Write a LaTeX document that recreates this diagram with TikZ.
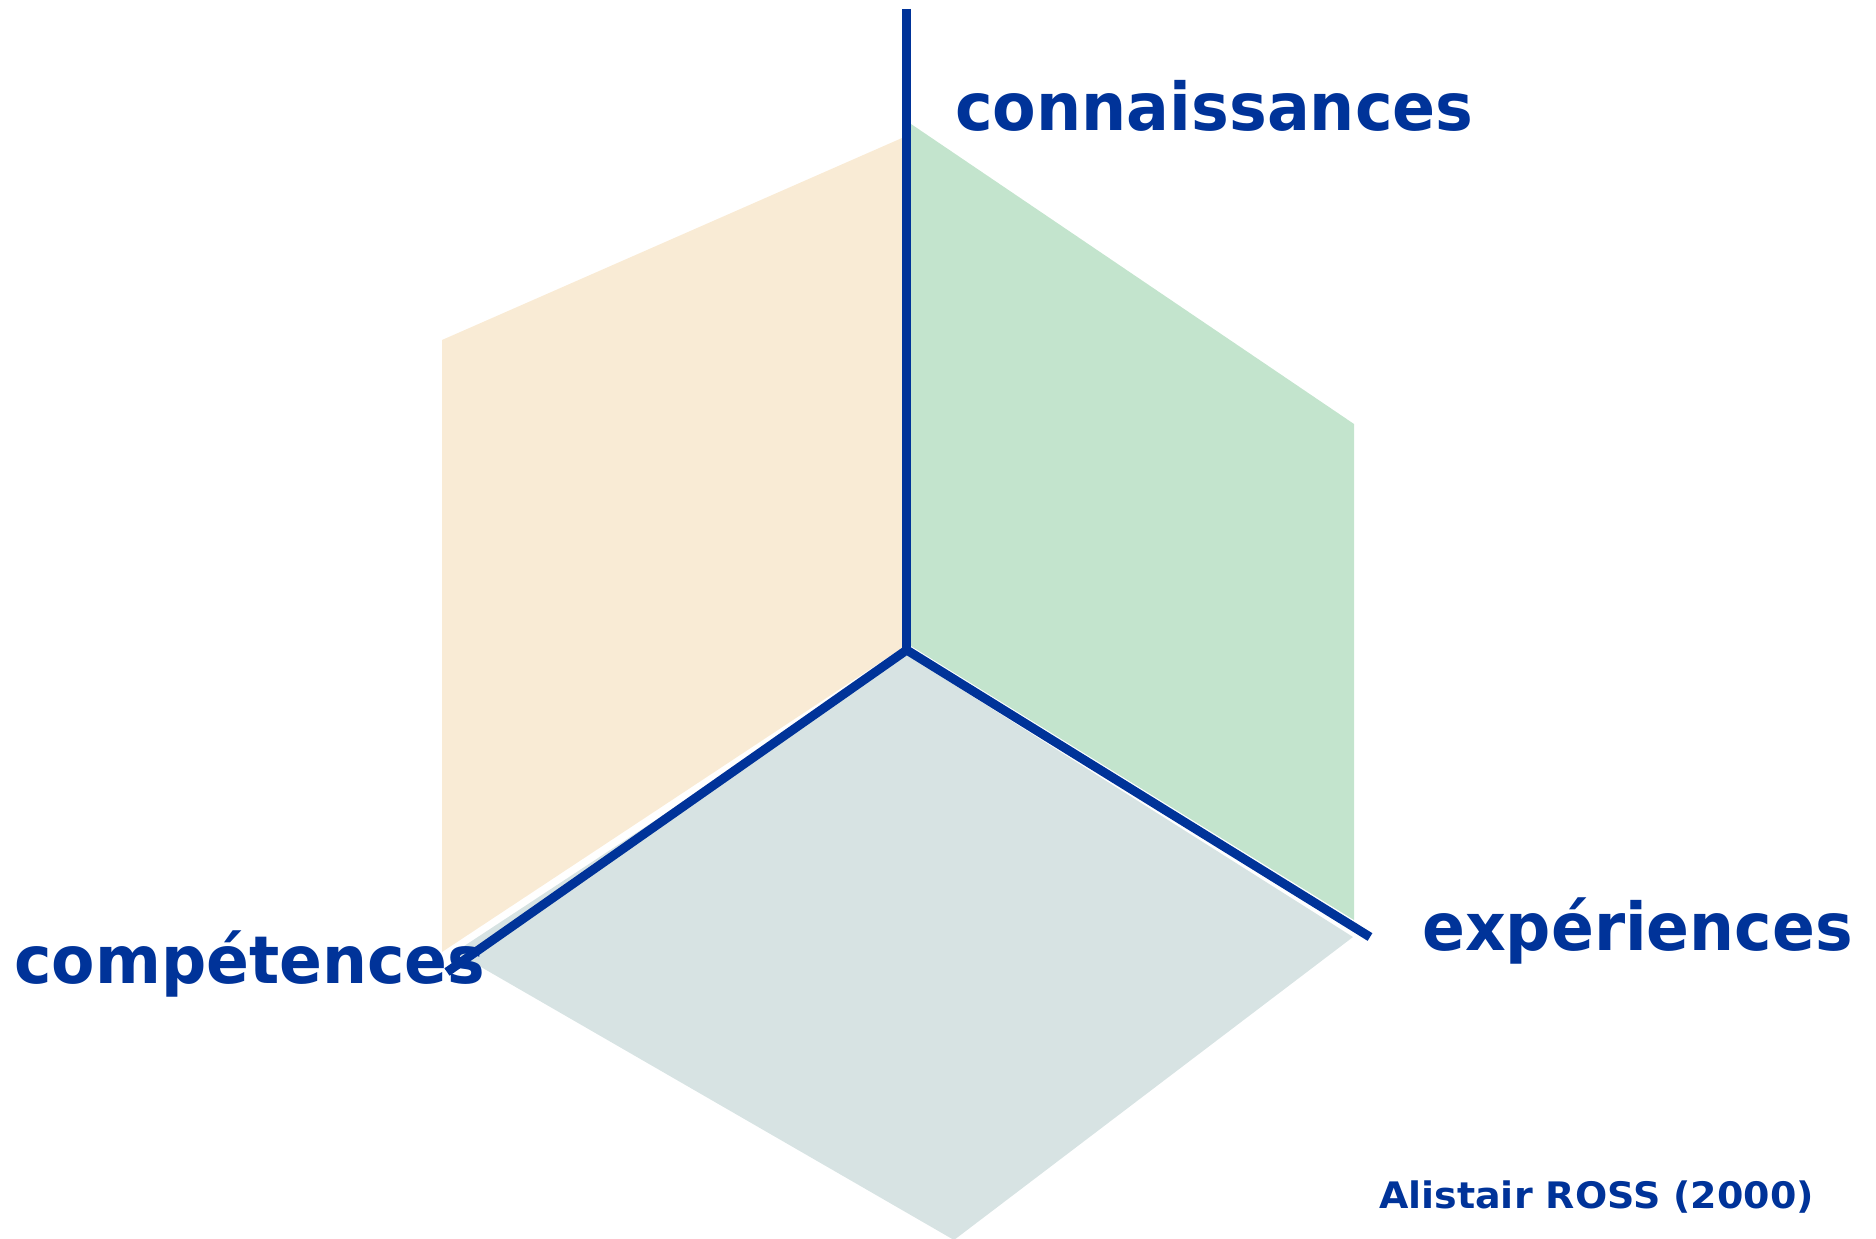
\documentclass[tikz,border=0pt]{standalone}
\usepackage{fontspec}
\setmainfont{DejaVu Sans}
\definecolor{axisblue}{RGB}{0,51,153}
\definecolor{facetorange}{RGB}{249,235,213}
\definecolor{facetgreen}{RGB}{195,228,205}
\definecolor{facetgray}{RGB}{215,227,227}
\tikzset{
  axisline/.style={draw=axisblue, line width=9pt, line join=miter},
  biglabel/.style={text=axisblue, anchor=base west, inner sep=0pt, font=\bfseries\fontsize{66}{70}\selectfont},
  smalllabel/.style={text=axisblue, anchor=base west, inner sep=0pt, font=\bfseries\fontsize{36.5}{40}\selectfont},
  facet/.style={draw=none}
}
\begin{document}
\begin{tikzpicture}[x=1pt, y=-1pt]
\useasboundingbox (0,0) rectangle (1876,1239);
% facets
\fill[facetorange] (902,138) -- (442,340) -- (442,952) -- (902,648) -- cycle;
\fill[facetgreen] (911,124) -- (1354,424) -- (1354,920) -- (911,646) -- cycle;
\fill[facetgray] (907,655) -- (1353,937) -- (954,1240) -- (455,952) -- cycle;
% axes
\coordinate (centre) at (906.7,650);
\coordinate (top) at (906.7,9);
\coordinate (leftend) at (447,972);
\coordinate (rightend) at (1370,937);
\draw[axisline] (top) -- (centre);
\draw[axisline] (leftend) -- (centre) -- (rightend);
% labels
\node[biglabel] (conn) at (955,130) {\scalebox{0.962}[1]{connaissances}};
\node[biglabel] (comp) at (14,983) {\scalebox{0.958}[1]{compétences}};
\node[biglabel] (exp) at (1422,950) {\scalebox{0.958}[1]{expériences}};
\node[smalllabel] (auth) at (1379,1208) {\scalebox{1.04}[1]{Alistair ROSS (2000)}};
\end{tikzpicture}
\end{document}
